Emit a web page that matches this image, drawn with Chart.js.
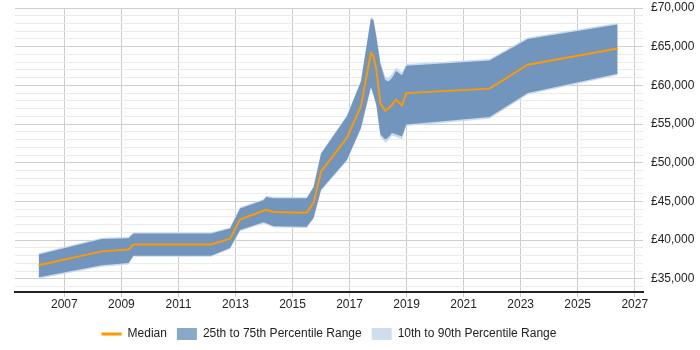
<!DOCTYPE html>
<html>
<head>
<meta charset="utf-8">
<script src="https://cdn.jsdelivr.net/npm/chart.js@4.4.1/dist/chart.umd.min.js"></script>
<style>
  html, body { margin: 0; padding: 0; background: #ffffff; }
  #wrap { width: 700px; height: 350px; }
</style>
</head>
<body>
<div id="wrap"><canvas id="c" width="700" height="350"></canvas></div>
<script>
// Time points (decimal years)
const years = [2006.10, 2008.31, 2009.25, 2009.42, 2012.14, 2012.81, 2013.16, 2013.98, 2014.08, 2014.33,
  2015.50, 2015.74, 2016.00, 2016.91, 2017.40, 2017.75, 2017.84, 2017.94, 2018.08, 2018.25,
  2018.36, 2018.49, 2018.63, 2018.84, 2018.99, 2021.91, 2023.25, 2026.40];
const median = [36750, 38550, 38800, 39450, 39450, 40200, 42650, 43800, 43950, 43650,
  43550, 44850, 48850, 53250, 57300, 64200, 63750, 62000, 57700, 56700,
  57000, 57500, 58150, 57400, 59000, 59580, 62680, 64780];
const p75 = [38150, 40150, 40250, 40850, 40850, 41500, 44100, 45150, 45590, 45420,
  45400, 46850, 51150, 56000, 60500, 68600, 68400, 66300, 62800, 60700,
  60500, 60950, 61850, 61300, 62550, 63200, 66000, 67880];
const p25 = [35200, 36750, 37050, 38000, 38000, 39000, 41300, 42300, 42200, 41800,
  41720, 42900, 46500, 50400, 54500, 59800, 58800, 57500, 53700, 53000,
  53300, 53850, 53700, 53400, 54950, 55900, 59020, 61510];
const p90 = [38300, 40300, 40400, 41000, 41000, 41650, 44250, 45300, 45750, 45570,
  45550, 47000, 51300, 56150, 60650, 68850, 68650, 66500, 63100, 61150,
  61000, 61500, 62300, 61700, 62750, 63400, 66200, 68050];
const p10 = [35000, 36550, 36850, 37850, 37850, 38850, 41150, 42150, 42050, 41650,
  41570, 42750, 46350, 50250, 54350, 59650, 58650, 57300, 53400, 52600,
  52900, 53500, 53350, 53050, 54750, 55700, 58820, 61300];
const xTicks = [2007, 2009, 2011, 2013, 2015, 2017, 2019, 2021, 2023, 2025, 2027];
const yTicks = [];
for (let v = 34000; v <= 70000; v += 1000) yTicks.push(v);
const legendNames = ['Median', '25th to 75th Percentile Range', '10th to 90th Percentile Range'];

const toPts = arr => arr.map((v, i) => ({ x: years[i], y: v }));

const COL_MED = '#ff9900';
const COL_IQR = '#7195bc';
const COL_OUT = '#c9dbee';

const FONT = { family: '"Liberation Sans", Arial, sans-serif', size: 12 };

const ds = [
  { label: legendNames[0], data: toPts(median), borderColor: COL_MED, borderWidth: 2, pointRadius: 0, fill: false, order: 0, tension: 0 },
  { label: 'p75', data: toPts(p75), borderColor: 'rgba(0,0,0,0)', borderWidth: 0, backgroundColor: COL_IQR, pointRadius: 0, fill: '+1', order: 1, tension: 0 },
  { label: 'p25', data: toPts(p25), borderColor: 'rgba(0,0,0,0)', borderWidth: 0, pointRadius: 0, fill: false, order: 1, tension: 0 },
  { label: 'p90', data: toPts(p90), borderColor: 'rgba(0,0,0,0)', borderWidth: 0, backgroundColor: COL_OUT, pointRadius: 0, fill: '+1', order: 2, tension: 0 },
  { label: 'p10', data: toPts(p10), borderColor: 'rgba(0,0,0,0)', borderWidth: 0, pointRadius: 0, fill: false, order: 2, tension: 0 }
];

new Chart(document.getElementById('c'), {
  type: 'line',
  data: { datasets: ds },
  options: {
    responsive: false,
    animation: false,
    layout: { padding: { left: 15, top: 8, right: 0, bottom: 0 } },
    plugins: {
      tooltip: { enabled: false },
      legend: {
        position: 'bottom',
        fullSize: false,
        labels: {
          font: FONT,
          color: '#222',
          usePointStyle: true,
          pointStyleWidth: 20,
          boxHeight: 12,
          padding: 10,
          generateLabels: () => [
            { text: legendNames[0], pointStyle: 'line', strokeStyle: COL_MED, fillStyle: COL_MED, lineWidth: 3, fontColor: '#222', datasetIndex: 0 },
            { text: legendNames[1], pointStyle: 'rect', strokeStyle: 'rgba(0,0,0,0)', fillStyle: '#8aa8c8', lineWidth: 0, fontColor: '#222', datasetIndex: 1 },
            { text: legendNames[2], pointStyle: 'rect', strokeStyle: 'rgba(0,0,0,0)', fillStyle: '#cfdeef', lineWidth: 0, fontColor: '#222', datasetIndex: 3 }
          ]
        }
      }
    },
    scales: {
      x: {
        type: 'linear',
        min: 2005.27,
        max: 2027.29,
        afterBuildTicks: s => { s.ticks = xTicks.map(v => ({ value: v })); },
        afterFit: s => { s.height = 26; },
        ticks: { autoSkip: false, maxRotation: 0, font: FONT, color: '#222', padding: 0, callback: v => String(v) },
        grid: { color: '#cdcdcd', tickLength: 5, tickColor: '#cdcdcd', drawTicks: true },
        border: { display: true, color: '#222', width: 2 }
      },
      y: {
        position: 'right',
        min: 33300,
        max: 70000,
        afterBuildTicks: s => { s.ticks = yTicks.map(v => ({ value: v })); },
        afterFit: s => { s.width = 57; s.paddingTop = 0; s.paddingBottom = 0; },
        ticks: {
          autoSkip: false, font: FONT, color: '#222', padding: 8,
          callback: v => (v % 5000 === 0 ? '£' + v.toLocaleString('en-GB') : '')
        },
        grid: {
          drawTicks: false,
          color: c => (c.tick && c.tick.value % 5000 === 0 ? '#cfcfcf' : '#ebebeb')
        },
        border: { display: false }
      }
    }
  }
});
</script>
</body>
</html>
